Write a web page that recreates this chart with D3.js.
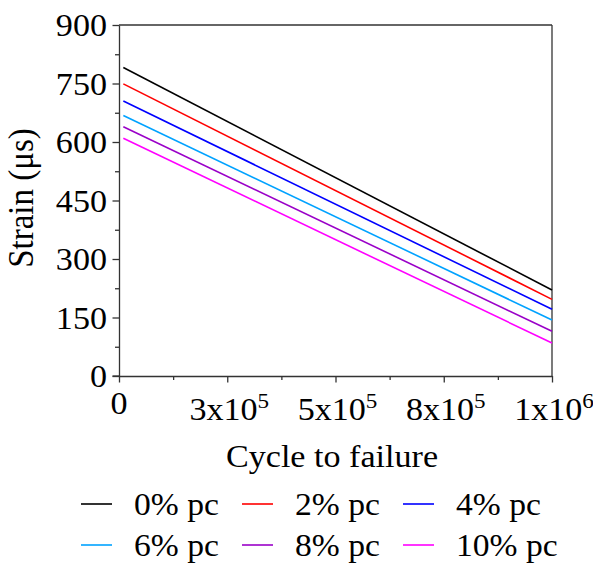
<!DOCTYPE html>
<html>
<head>
<meta charset="utf-8">
<script src="https://cdn.jsdelivr.net/npm/d3@7"></script>
<style>
  html, body { margin: 0; padding: 0; background: #fff; }
  svg text { font-family: "Liberation Serif", "Times New Roman", serif; fill: #000; }
</style>
</head>
<body>
<svg id="chart" width="593" height="563"></svg>
<script>
// Strain vs. cycles to failure for each pc content
const seriesNames = ["0% pc", "2% pc", "4% pc", "6% pc", "8% pc", "10% pc"];
const seriesColors = ["#000000", "#ff0000", "#0000ff", "#00a2ff", "#9a00c8", "#ff00ff"];
const cycles = [1e4, 1e6];
const strain0 = [791, 220.5];
const strain2 = [749, 196.5];
const strain4 = [705, 171];
const strain6 = [668, 143.5];
const strain8 = [639, 114.5];
const strain10 = [609.5, 84.5];
const seriesValues = [strain0, strain2, strain4, strain6, strain8, strain10];

const yTickValues = [0, 150, 300, 450, 600, 750, 900];
const yMinorTicks = [75, 225, 375, 525, 675, 825];
const xTickValues = [0, 250000, 500000, 750000, 1000000];
const xTickMantissa = ["0", "3x10", "5x10", "8x10", "1x10"];
const xTickExponent = ["", "5", "5", "5", "6"];
const xMinorTicks = [125000, 375000, 625000, 875000];

const svg = d3.select("#chart");
const x = d3.scaleLinear().domain([0, 1e6]).range([119, 552]);
const y = d3.scaleLinear().domain([0, 900]).range([376, 25]);
const axisColor = "#333";
const stretch = 1.1;

// plot frame: top and right borders
svg.append("line").attr("x1", x(0)).attr("x2", x(1e6)).attr("y1", y(900)).attr("y2", y(900))
  .attr("stroke", axisColor).attr("stroke-width", 1.3);
svg.append("line").attr("x1", x(1e6)).attr("x2", x(1e6)).attr("y1", y(900)).attr("y2", y(0))
  .attr("stroke", axisColor).attr("stroke-width", 1.3);

// left axis (major + minor ticks)
const yAxis = svg.append("g").attr("transform", `translate(${x(0)},0)`)
  .call(d3.axisLeft(y).tickValues(yTickValues).tickSize(6.5).tickSizeOuter(0).tickFormat(""));
svg.append("g").attr("transform", `translate(${x(0)},0)`)
  .call(d3.axisLeft(y).tickValues(yMinorTicks).tickSize(4).tickSizeOuter(0).tickFormat(""))
  .select(".domain").remove();

// bottom axis (major + minor ticks)
const xAxis = svg.append("g").attr("transform", `translate(0,${y(0)})`)
  .call(d3.axisBottom(x).tickValues(xTickValues).tickSize(6.5).tickSizeOuter(0).tickFormat(""));
svg.append("g").attr("transform", `translate(0,${y(0)})`)
  .call(d3.axisBottom(x).tickValues(xMinorTicks).tickSize(4).tickSizeOuter(0).tickFormat(""))
  .select(".domain").remove();

svg.selectAll(".domain").attr("stroke", axisColor).attr("stroke-width", 1.3);
svg.selectAll(".tick line").attr("stroke", axisColor).attr("stroke-width", 1.3);
// extend bottom axis line left to meet the outer end of the 0 tick
svg.append("line").attr("x1", x(0) - 6.5).attr("x2", x(0)).attr("y1", y(0)).attr("y2", y(0))
  .attr("stroke", axisColor).attr("stroke-width", 1.3);

// y tick labels
svg.append("g").selectAll("text").data(yTickValues).join("text")
  .attr("transform", d => `translate(107,${y(d) + 11}) scale(${stretch},1)`)
  .attr("text-anchor", "end")
  .style("font-size", "31px")
  .text(d => d);

// x tick labels with superscript exponents
const xl = svg.append("g").selectAll("text").data(xTickValues).join("text")
  .attr("transform", (d, i) => `translate(${x(d) + (i === 0 ? 0 : 2)},${i === 0 ? 414 : 420}) scale(${stretch},1)`)
  .attr("text-anchor", "middle")
  .style("font-size", "31px");
xl.append("tspan").text((d, i) => xTickMantissa[i]);
xl.append("tspan").attr("dy", -12).style("font-size", "21px").text((d, i) => xTickExponent[i]);

// axis titles
svg.append("text")
  .attr("transform", `translate(332,467) scale(${stretch},1)`)
  .attr("text-anchor", "middle")
  .style("font-size", "31px")
  .text("Cycle to failure");
svg.append("text")
  .attr("transform", `translate(33,198) rotate(-90) scale(1,${stretch})`)
  .attr("text-anchor", "middle")
  .style("font-size", "33px")
  .text("Strain (μs)");

// strain lines
const line = d3.line().x((d, i) => x(cycles[i])).y(d => y(d));
svg.append("g").selectAll("path").data(seriesValues).join("path")
  .attr("d", d => line(d))
  .attr("fill", "none")
  .attr("stroke", (d, i) => seriesColors[i])
  .attr("stroke-width", 1.6);

// legend: 3 columns x 2 rows
const legendCols = [81, 242, 403];
const legendRows = [515, 556];
const leg = svg.append("g").selectAll("g").data(seriesNames).join("g")
  .attr("transform", (d, i) => `translate(${legendCols[i % 3]},${legendRows[Math.floor(i / 3)]})`);
leg.append("line").attr("x1", 0).attr("x2", 31).attr("y1", -11).attr("y2", -11)
  .attr("stroke", (d, i) => seriesColors[i]).attr("stroke-width", 1.6);
leg.append("text")
  .attr("transform", `translate(53,0) scale(1.05,1)`)
  .style("font-size", "32px")
  .text(d => d);
</script>
</body>
</html>
